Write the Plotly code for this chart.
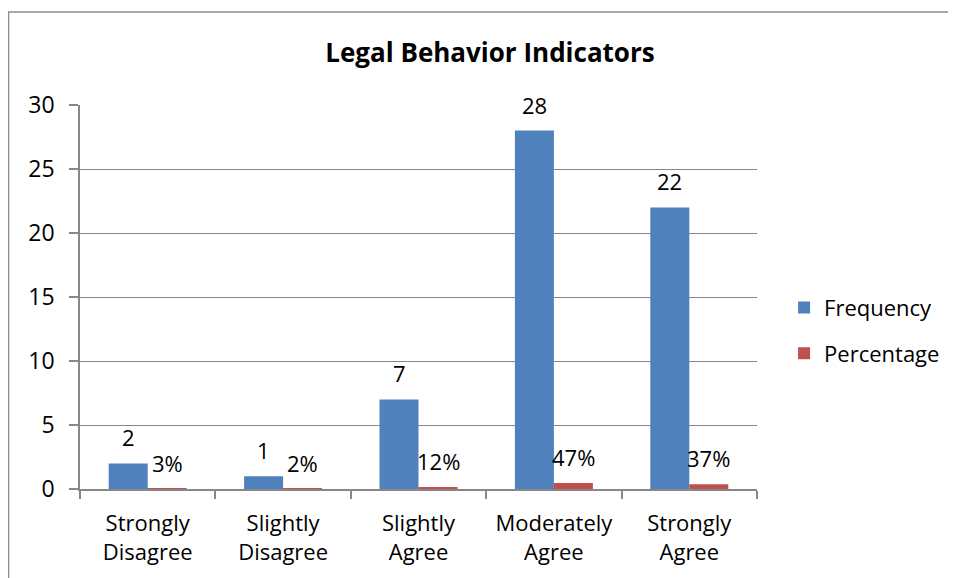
import plotly.graph_objects as go

categories = ["Strongly<br>Disagree", "Slightly<br>Disagree", "Slightly<br>Agree",
              "Moderately<br>Agree", "Strongly<br>Agree"]
frequency = [2, 1, 7, 28, 22]
percentage = [0.03, 0.02, 0.12, 0.47, 0.37]
y_ticks = [0, 5, 10, 15, 20, 25, 30]

BLUE = "#4F81BD"
RED = "#C0504D"
GRID = "#878787"
FONT = "Open Sans, Liberation Sans, sans-serif"

fig = go.Figure()
fig.add_trace(go.Bar(x=categories, y=frequency, name="Frequency",
                     marker=dict(color=BLUE, line=dict(width=0)), legendgroup="f"))
fig.add_trace(go.Bar(x=categories, y=percentage, name="Percentage",
                     marker=dict(color=RED, line=dict(width=0)), legendgroup="p"))

# Excel-style data labels floating above each bar
for cat, f, p in zip(categories, frequency, percentage):
    fig.add_annotation(x=cat, y=f, text=str(f), showarrow=False, xshift=-19.5,
                       yshift=26, yanchor="middle", font=dict(size=22, color="black"))
    fig.add_annotation(x=cat, y=p, text=f"{round(p * 100)}%", showarrow=False, xshift=19.5,
                       yshift=26, yanchor="middle", font=dict(size=22, color="black"))

# chart frame (left and top edges visible; the rest is off the page)
fig.add_shape(type="rect", xref="paper", yref="paper", x0=-0.1056, x1=1.6, y0=-0.5, y1=1.242,
              line=dict(color="#8c8c8c", width=1.5), layer="below")

# the page body adds an 8px margin, so the figure is 8px smaller each way
fig.update_layout(
    width=948, height=570,
    margin=dict(l=72, r=199, t=97, b=89, autoexpand=False),
    paper_bgcolor="white", plot_bgcolor="white",
    font=dict(family=FONT, color="black", size=22),
    barmode="group", bargap=0.424, bargroupgap=0,
    title=dict(text="<b>Legal Behavior Indicators</b>", x=482 / 948, xanchor="center",
               xref="container", y=1 - 45 / 570, yanchor="middle", yref="container",
               font=dict(size=26, color="black")),
    legend=dict(x=1.040, y=0.412, xanchor="left", yanchor="middle", traceorder="grouped",
                tracegroupgap=14, font=dict(size=22), bgcolor="rgba(0,0,0,0)"),
    showlegend=True,
)
fig.update_xaxes(showline=True, linecolor=GRID, linewidth=1.5, ticks="outside",
                 tickson="boundaries", ticklen=8, tickcolor=GRID, tickwidth=1.5,
                 ticklabelstandoff=14, tickfont=dict(size=22))
fig.update_yaxes(range=[0, 30], tickvals=y_ticks, showline=True, linecolor=GRID, linewidth=1.5,
                 ticks="outside", ticklen=9, tickcolor=GRID, tickwidth=1.5,
                 ticklabelstandoff=10,
                 showgrid=True, gridcolor=GRID, gridwidth=1.2, zeroline=False,
                 tickfont=dict(size=23))

fig.write_html("out.html")
